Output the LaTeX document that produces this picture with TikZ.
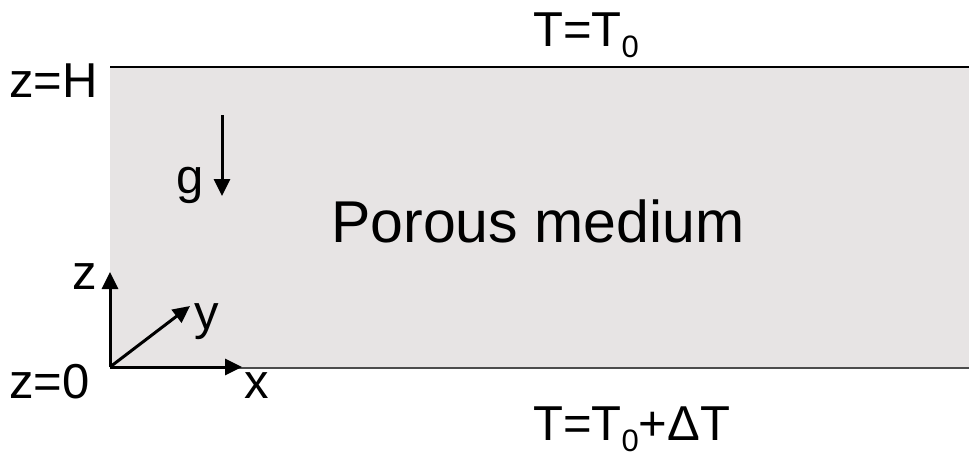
\documentclass[tikz,border=0pt]{standalone}
\usepackage{fontspec}
\setmainfont{Liberation Sans}
\usetikzlibrary{arrows.meta}
\definecolor{medium}{HTML}{E7E4E4}
\newcommand{\subzero}{\raisebox{-11pt}{\fontsize{31}{31}\selectfont 0}}
\tikzset{
  lbl/.style={inner sep=0pt, anchor=base west, font=\fontsize{49}{55}\selectfont},
  axis/.style={line width=3pt, -{Triangle[length=17pt,width=16pt]}},
  wall/.style={line width=2.8pt},
}
\begin{document}
\begin{tikzpicture}[x=1pt,y=-1pt]
\useasboundingbox (0,0) rectangle (969,456);
\fill[medium] (110,67) rectangle (969,368);
\coordinate (tl) at (110,67);
\coordinate (tr) at (969,67);
\coordinate (bl) at (110,368);
\coordinate (br) at (969,368);
\draw[wall] (tl) -- (tr);
\draw[wall, black!70] (bl) -- (br);
% texts
\node[lbl] (zH) at (9,97) {z=H};
\node[lbl] (z0) at (9,398) {z=0};
\node[lbl] (Ttop) at (533,46) {T=T\subzero};
\node[lbl] (Tbot) at (533,440) {T=T\subzero+ΔT};
\node[inner sep=0pt, anchor=base west, font=\fontsize{59}{66}\selectfont] (pm) at (331,242) {Porous medium};
\node[lbl] (g) at (176,193) {g};
% gravity arrow
\coordinate (g1) at (222,115);
\coordinate (g2) at (222,196);
\draw[axis] (g1) -- (g2);
% axes
\coordinate (o) at (110,367);
\coordinate (xe) at (242,367);
\coordinate (ze) at (110,272);
\coordinate (ye) at (190,306);
\draw[axis] (o) -- (xe);
\draw[axis] (o) -- (ze);
\draw[axis] (o) -- (ye);
\node[lbl] (xl) at (244,398) {x};
\node[lbl] (zl) at (72,289) {z};
\node[lbl] (yl) at (194,329) {y};
\end{tikzpicture}
\end{document}
